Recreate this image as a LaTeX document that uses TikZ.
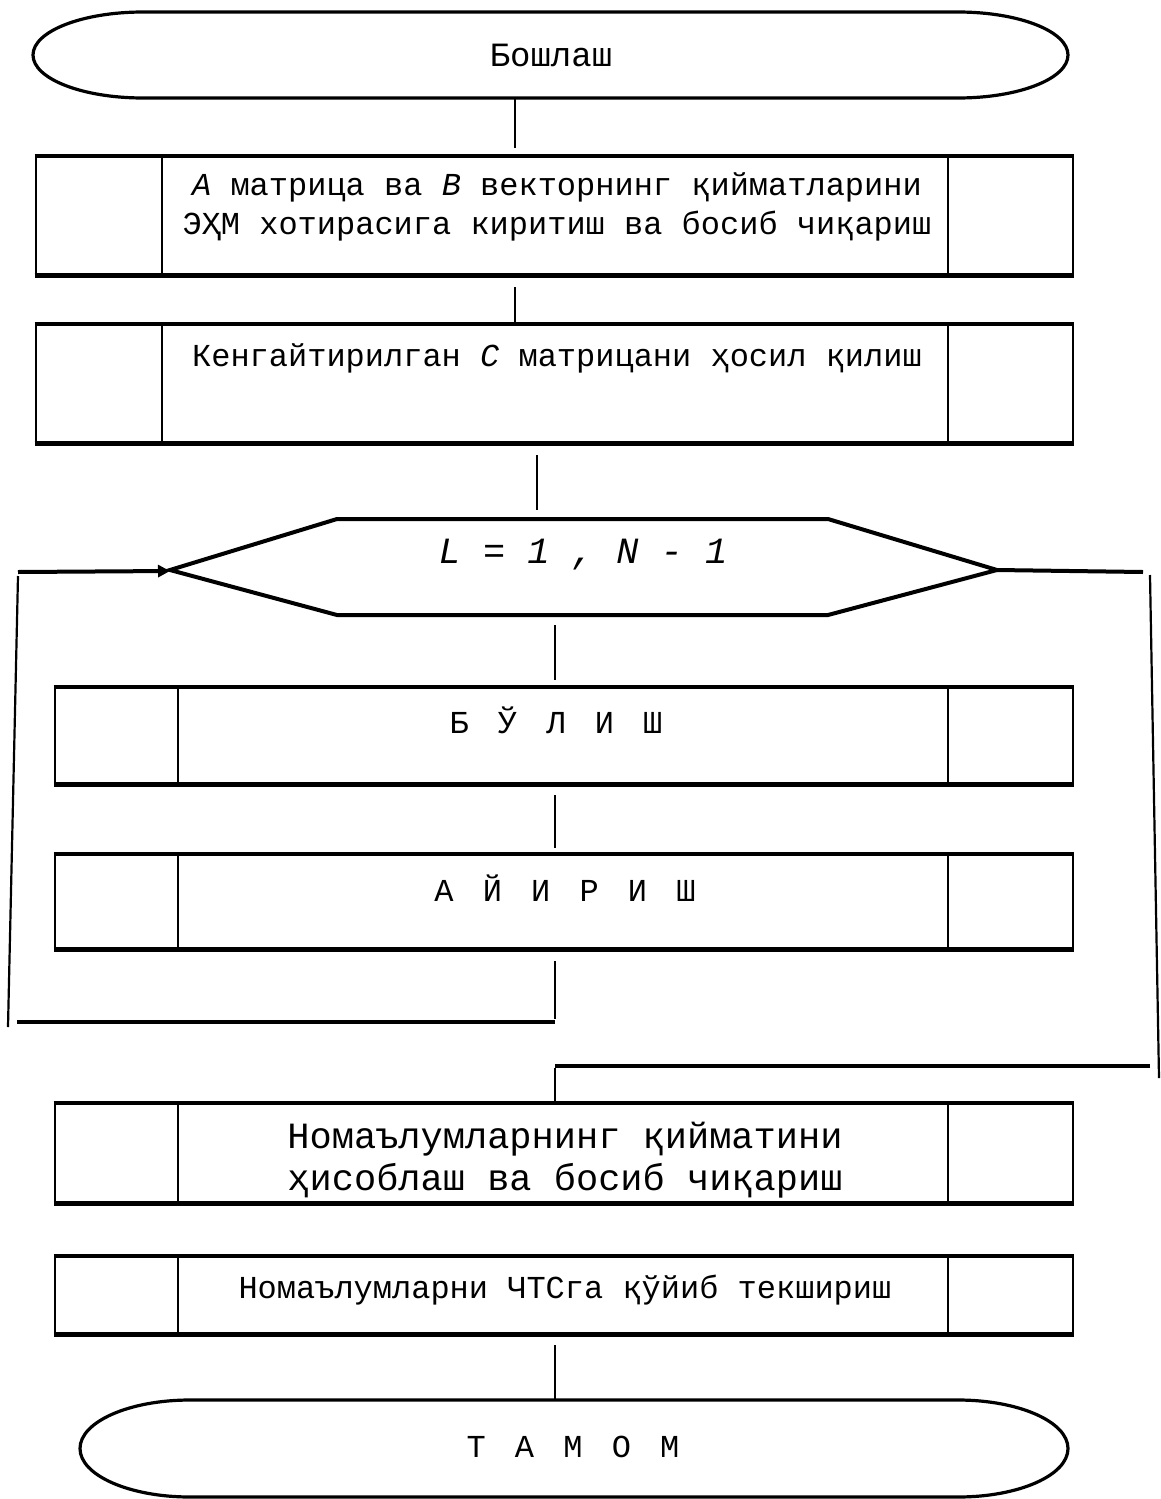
\documentclass[tikz,border=0pt]{standalone}
\usepackage{fontspec}
\setmonofont{Liberation Mono}
\usetikzlibrary{arrows.meta,calc}
\newcommand\procbox[7]{% name, x1, y1, x2, y2, xi1, xi2
  \node[boxst, minimum width={(#4-#2)*0.5pt}, minimum height={(#5-#3)*0.5pt}] (#1) at ({(#2+#4)/2},{(#3+#5)/2}) {};
  \draw[thickh] (#1.north west) -- (#1.north east) (#1.south west) -- (#1.south east);
  \draw[innerln] (#6,#3) -- (#6,#5) (#7,#3) -- (#7,#5);
}
\newcommand\lsp{\hspace{14.6pt}}
\begin{document}
\begin{tikzpicture}[x=0.5pt,y=-0.5pt, font=\ttfamily\fontsize{16pt}{19.5pt}\selectfont,
  boxst/.style={draw, line width=1.3pt, inner sep=0pt},
  thickh/.style={line width=2.2pt},
  innerln/.style={line width=1pt},
  conn/.style={line width=1.1pt},
  loopln/.style={line width=2pt},
  term/.style={line width=1.6pt},
  txt/.style={inner sep=0pt, align=center}]
\useasboundingbox (0,0) rectangle (1161,1499);

% start terminal
\draw[term] (143,12) -- (958,12) arc[start angle=-90, end angle=90, x radius=110, y radius=43]
  -- (143,98) arc[start angle=90, end angle=270, x radius=110, y radius=43] -- cycle;
\node[txt, font=\ttfamily\fontsize{17pt}{20pt}\selectfont] (start) at (551,55) {Бошлаш};

% box 1
\procbox{b1}{36}{157}{1073}{274}{162}{948}
\node[txt] (t1) at (557,207) {\textit{A} матрица ва \textit{B} векторнинг қийматларини\\ЭҲМ хотирасига киритиш ва босиб чиқариш};

% box 2
\procbox{b2}{36}{325}{1073}{442}{162}{948}
\node[txt] (t2) at (557,358) {Кенгайтирилган \textit{C} матрицани ҳосил қилиш};

% condition hexagon
\draw[line width=2pt] (337,519) -- (828,519) -- (997,570) -- (828,615) -- (337,615) -- (170,570) -- cycle;
\coordinate (hexL) at (170,571);
\coordinate (hexR) at (997,570);
\node[txt, font=\ttfamily\itshape\fontsize{18.5pt}{22pt}\selectfont] (cond) at (583,555) {L = 1 , N - 1};

% box 3
\procbox{b3}{55}{688}{1073}{783}{178}{948}
\node[txt] (t3) at (556,720) {Б\lsp Ў\lsp Л\lsp И\lsp Ш};

% box 4
\procbox{b4}{55}{855}{1073}{948}{178}{948}
\node[txt] (t4) at (565,888) {А\lsp Й\lsp И\lsp Р\lsp И\lsp Ш};

% box 5
\procbox{b5}{55}{1104}{1073}{1202}{178}{948}
\node[txt, font=\ttfamily\fontsize{18.5pt}{21pt}\selectfont] (t5) at (565,1160) {Номаълумларнинг қийматини\\ҳисоблаш ва босиб чиқариш};

% box 6
\procbox{b6}{55}{1257}{1073}{1333}{178}{948}
\node[txt] (t6) at (565,1290) {Номаълумларни ЧТСга қўйиб текшириш};

% end terminal
\draw[term] (190,1400) -- (958,1400) arc[start angle=-90, end angle=90, x radius=110, y radius=48.5]
  -- (190,1497) arc[start angle=90, end angle=270, x radius=110, y radius=48.5] -- cycle;
\node[txt] (stop) at (573,1447) {Т\lsp А\lsp М\lsp О\lsp М};

% straight connectors
\coordinate (c1a) at (515,97);  \coordinate (c1b) at (515,148);
\coordinate (c2a) at (515,287); \coordinate (c2b) at (515,322);
\coordinate (c3a) at (537,455); \coordinate (c3b) at (537,510);
\coordinate (c4a) at (555,625); \coordinate (c4b) at (555,680);
\coordinate (c5a) at (555,795); \coordinate (c5b) at (555,848);
\coordinate (c6a) at (555,1345); \coordinate (c6b) at (555,1400);
\draw[conn] (c1a) -- (c1b) (c2a) -- (c2b) (c3a) -- (c3b) (c4a) -- (c4b) (c5a) -- (c5b) (c6a) -- (c6b);

% loop back (left)
\coordinate (l1) at (555,961);
\coordinate (l2) at (555,1019);
\coordinate (l3) at (17,1022);
\coordinate (l4) at (555,1022);
\coordinate (l5) at (8,1027);
\coordinate (l6) at (18,576);
\coordinate (l7) at (18,572);
\draw[conn] (l1) -- (l2);
\draw[loopln] (l3) -- (l4);
\draw[conn] (l5) -- (l6);
\draw[loopln, -{Triangle[length=6pt,width=6pt]}] (l7) -- (hexL);

% exit (right)
\coordinate (r1) at (1143,572);
\coordinate (r2) at (1150,575);
\coordinate (r3) at (1159,1078);
\coordinate (r4) at (1150,1066);
\coordinate (r5) at (555,1066);
\coordinate (r6) at (555,1068);
\coordinate (r7) at (555,1103);
\draw[loopln] (hexR) -- (r1);
\draw[conn] (r2) -- (r3);
\draw[loopln] (r4) -- (r5);
\draw[conn] (r6) -- (r7);
\end{tikzpicture}
\end{document}
